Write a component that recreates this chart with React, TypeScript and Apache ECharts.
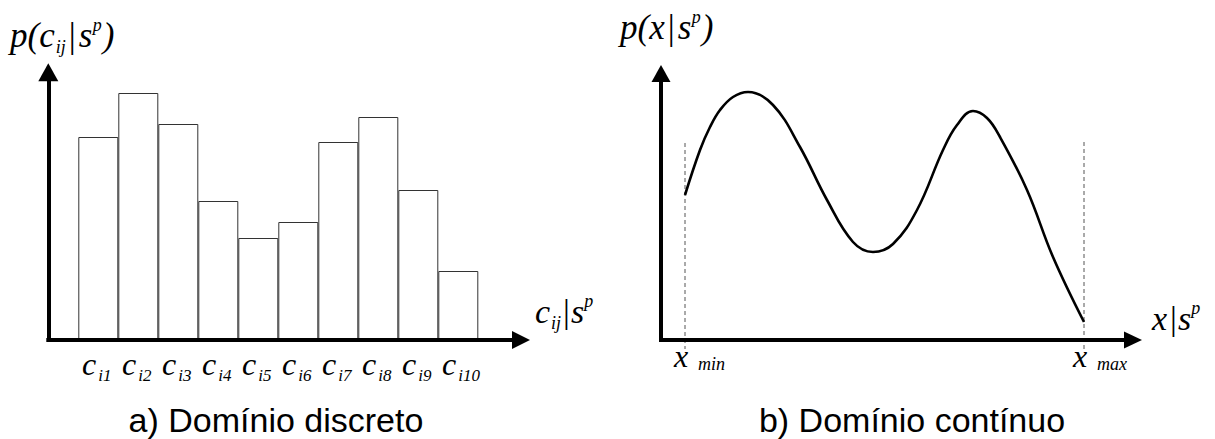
import { useEffect, useRef } from 'react';
import * as echarts from 'echarts';

// a) discrete domain: p(c_ij | s^p) for the classes c_i1 .. c_i10
const CLASS_INDICES = ['i1', 'i2', 'i3', 'i4', 'i5', 'i6', 'i7', 'i8', 'i9', 'i10'];
const CLASS_PROB = [203, 247, 216, 139, 102, 118, 198, 223, 150, 69];

// b) continuous domain: density p(x | s^p) sampled between x_min and x_max
const DENSITY_X = [24, 39, 49, 59, 72, 87, 112, 139, 166, 192, 212, 232, 256, 282, 296, 312, 326, 339, 366, 392, 423];
const DENSITY_Y = [145, 190, 213, 230, 243, 248, 235, 193, 140, 98, 88, 96, 130, 190, 215, 229, 222, 203, 150, 83, 18];

// domain limits, their subscripts and the extent of their dashed guides
const X_MIN = 24;
const X_MAX = 423;
const LIMIT_SUBSCRIPTS = ['min', 'max'];
const X_MIN_GUIDE_TOP = 197;
const X_MAX_GUIDE_TOP = 198;
const GUIDE_BOTTOM = -9;

const CAPTIONS = ['a) Domínio discreto', 'b) Domínio contínuo'];

const SERIF = 'Liberation Serif';
const SANS = 'Liberation Sans';

// distance from the central baseline to the alphabetic one, in em (Liberation Serif)
const SERIF_CENTRAL = 0.3375;

const arrowLine = (across: number, along: number) => ({
  show: true,
  onZero: false,
  symbol: ['none', 'triangle'],
  symbolSize: [across, along],
  lineStyle: { color: '#000', width: 4, cap: 'square' },
});

const bare = {
  axisTick: { show: false },
  axisLabel: { show: false },
  splitLine: { show: false },
};

const serifLabel = (size: number, extra: Record<string, unknown> = {}) => ({
  color: '#000',
  fontFamily: SERIF,
  fontStyle: 'italic',
  fontSize: size,
  lineHeight: size,
  ...extra,
});

// math-style axis names, laid out piece by piece (sub/superscripts shifted from the baseline)
type Piece = { t: string; size: number; upright?: boolean; shift?: number; gap?: number };

let measureCtx: CanvasRenderingContext2D | null = null;
const textWidth = (font: string, text: string) => {
  if (!measureCtx) measureCtx = document.createElement('canvas').getContext('2d');
  if (!measureCtx) return text.length * 10;
  measureCtx.font = font;
  return measureCtx.measureText(text).width;
};

const mathText = (x0: number, baseline: number, pieces: Piece[]) => {
  let x = x0;
  return pieces.map((p) => {
    x += p.gap ?? 0;
    const font = `${p.upright ? '' : 'italic '}${p.size}px ${SERIF}`;
    const el = {
      type: 'text',
      x,
      y: baseline + (p.shift ?? 0) - SERIF_CENTRAL * p.size,
      silent: true,
      style: { text: p.t, font, fill: '#000', verticalAlign: 'middle' },
    };
    x += textWidth(font, p.t);
    return el;
  });
};

export default function App() {
  const ref = useRef<HTMLDivElement>(null);

  useEffect(() => {
    if (!ref.current) return;
    const chart = echarts.init(ref.current, null, { renderer: 'svg' });

    const density = DENSITY_X.map((x, i) => [x, DENSITY_Y[i]]);
    const barsGrid = { left: 78.3, width: 400, top: 60, bottom: 99 };
    const curveGrid = { left: 661, right: 82, top: 73.5, bottom: 99 };

    const option = {
      animation: false,
      backgroundColor: '#fff',
      grid: [
        { left: 48.3, right: 694, top: 72.3, bottom: 99 },
        barsGrid,
        curveGrid,
        barsGrid,
        curveGrid,
      ],
      xAxis: [
        { gridIndex: 0, type: 'value', min: 0, max: 1, z: 5, axisLine: arrowLine(18, 18), ...bare },
        {
          // class letter "c", right-aligned on each bar centre
          gridIndex: 1,
          type: 'category',
          data: CLASS_INDICES,
          axisLine: { show: false },
          axisTick: { show: false },
          splitLine: { show: false },
          axisLabel: {
            interval: 0,
            margin: 8,
            align: 'right',
            padding: [0, 2, 0, 0],
            formatter: () => 'c',
            ...serifLabel(32),
          },
        },
        {
          gridIndex: 2,
          type: 'value',
          min: 0,
          max: 472,
          z: 5,
          axisLine: arrowLine(17, 18),
          axisTick: { show: false },
          splitLine: { show: false },
          axisLabel: {
            customValues: [X_MIN, X_MAX],
            margin: 0,
            align: 'center',
            padding: [0, 8, 0, 0],
            formatter: () => 'x',
            ...serifLabel(32),
          },
        },
        {
          // class subscripts i1 .. i10
          gridIndex: 3,
          type: 'category',
          data: CLASS_INDICES,
          axisLine: { show: false },
          axisTick: { show: false },
          splitLine: { show: false },
          axisLabel: {
            interval: 0,
            margin: 27,
            align: 'left',
            ...serifLabel(17),
          },
        },
        {
          // subscripts of x_min / x_max
          gridIndex: 4,
          type: 'value',
          min: 0,
          max: 472,
          axisLine: { show: false },
          axisTick: { show: false },
          splitLine: { show: false },
          axisLabel: {
            customValues: [X_MIN, X_MAX],
            margin: 15,
            align: 'left',
            padding: [0, 0, 0, 13],
            formatter: (v: number) => (v === X_MIN ? LIMIT_SUBSCRIPTS[0] : LIMIT_SUBSCRIPTS[1]),
            ...serifLabel(18),
          },
        },
      ],
      yAxis: [
        { gridIndex: 0, type: 'value', min: 0, max: 1, z: 5, axisLine: arrowLine(20, 18), ...bare },
        { gridIndex: 1, type: 'value', min: 0, max: 280, show: false },
        { gridIndex: 2, type: 'value', min: 0, max: 266.5, z: 5, axisLine: arrowLine(19, 17), ...bare },
        { gridIndex: 3, type: 'value', min: 0, max: 280, show: false },
        { gridIndex: 4, type: 'value', min: 0, max: 266.5, show: false },
      ],
      series: [
        {
          type: 'bar',
          xAxisIndex: 1,
          yAxisIndex: 1,
          data: CLASS_PROB,
          barCategoryGap: '0%',
          itemStyle: { color: '#fff', borderColor: '#333', borderWidth: 1 },
          z: 2,
        },
        {
          type: 'line',
          xAxisIndex: 2,
          yAxisIndex: 2,
          data: [[X_MIN, X_MIN_GUIDE_TOP], [X_MIN, GUIDE_BOTTOM]],
          symbol: 'none',
          clip: false,
          lineStyle: { color: '#555', width: 1, type: [4, 3] },
          z: 1,
        },
        {
          type: 'line',
          xAxisIndex: 2,
          yAxisIndex: 2,
          data: [[X_MAX, X_MAX_GUIDE_TOP], [X_MAX, GUIDE_BOTTOM]],
          symbol: 'none',
          clip: false,
          lineStyle: { color: '#555', width: 1, type: [4, 3] },
          z: 1,
        },
        {
          type: 'line',
          xAxisIndex: 2,
          yAxisIndex: 2,
          data: density,
          smooth: 0.4,
          symbol: 'none',
          clip: false,
          lineStyle: { color: '#000', width: 2.6 },
          z: 3,
        },
      ],
      graphic: [
        ...mathText(10, 47, [
          { t: 'p(c', size: 35 },
          { t: 'ij', size: 18, shift: 6, gap: 1 },
          { t: '|', size: 35, upright: true, gap: 3 },
          { t: 's', size: 35, gap: 3 },
          { t: 'p', size: 18, shift: -16, gap: 0.5 },
          { t: ')', size: 35, gap: 1 },
        ]),
        ...mathText(535, 323, [
          { t: 'c', size: 34 },
          { t: 'ij', size: 18, shift: 6, gap: 1 },
          { t: '|', size: 34, upright: true, gap: 2 },
          { t: 's', size: 34, gap: 1 },
          { t: 'p', size: 18, shift: -16 },
        ]),
        ...mathText(620, 39, [
          { t: 'p(x', size: 35 },
          { t: '|', size: 35, upright: true, gap: 3 },
          { t: 's', size: 35, gap: 3 },
          { t: 'p', size: 18, shift: -16, gap: 0.5 },
          { t: ')', size: 35, gap: 1 },
        ]),
        ...mathText(1152, 330, [
          { t: 'x', size: 34 },
          { t: '|', size: 34, upright: true, gap: 3 },
          { t: 's', size: 34, gap: 1 },
          { t: 'p', size: 18, shift: -16 },
        ]),
        {
          type: 'text',
          x: 276,
          y: 420,
          style: { text: CAPTIONS[0], font: `34px ${SANS}`, fill: '#000', align: 'center', verticalAlign: 'middle' },
        },
        {
          type: 'text',
          x: 912,
          y: 420,
          style: { text: CAPTIONS[1], font: `34px ${SANS}`, fill: '#000', align: 'center', verticalAlign: 'middle' },
        },
      ],
    };

    chart.setOption(option as any);
    return () => chart.dispose();
  }, []);

  return (
    <div
      ref={ref}
      style={{ position: 'fixed', left: 0, top: 0, width: 1215, height: 439, background: '#fff' }}
    />
  );
}
